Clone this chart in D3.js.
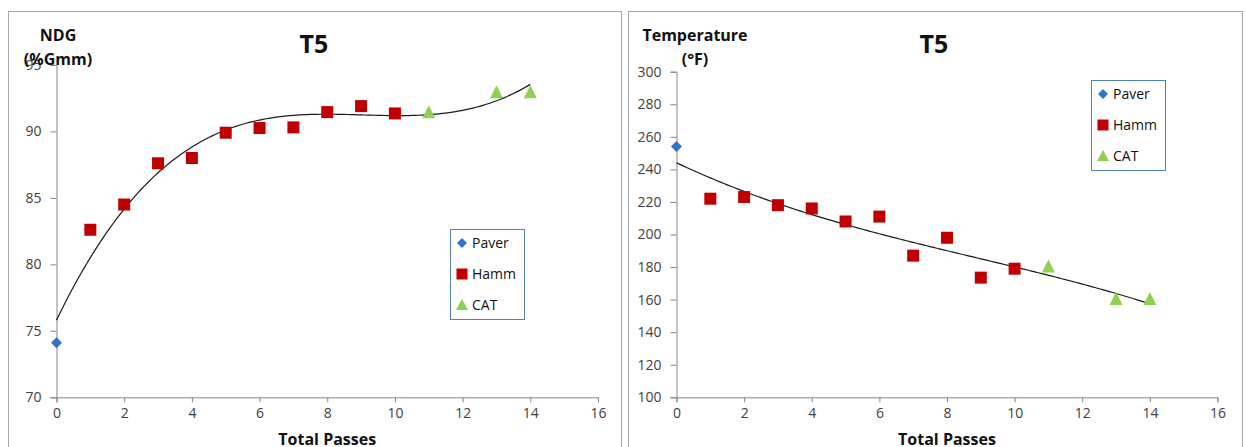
<!DOCTYPE html>
<html>
<head>
<meta charset="utf-8">
<script src="https://cdn.jsdelivr.net/npm/d3@7"></script>
<style>
  html, body { margin: 0; padding: 0; background: #fff; }
  svg { display: block; font-family: "Open Sans", "Noto Sans", sans-serif; }
</style>
</head>
<body>
<svg id="chart" width="1246" height="447"></svg>
<script>
// Passes per roller
const passesPaver = [0];
const passesHamm = [1, 2, 3, 4, 5, 6, 7, 8, 9, 10];
const passesCat = [11, 13, 14];

// Density (NDG, %Gmm)
const ndgPaver = [74.1];
const ndgHamm = [82.6, 84.5, 87.6, 88.0, 89.9, 90.25, 90.3, 91.45, 91.9, 91.35];
const ndgCat = [91.4, 92.9, 92.9];

// Mat temperature (°F)
const tempPaver = [254];
const tempHamm = [222, 223, 218, 216, 208, 211, 187, 198, 173.5, 179];
const tempCat = [180, 160, 160];

const xTicks = [0, 2, 4, 6, 8, 10, 12, 14, 16];
const ndgTicks = [70, 75, 80, 85, 90, 95];
const tempTicks = [100, 120, 140, 160, 180, 200, 220, 240, 260, 280, 300];
const seriesNames = ["Paver", "Hamm", "CAT"];

const colors = { Paver: "#2e75c9", Hamm: "#c00000", CAT: "#8fd14f" };

// Least-squares polynomial fit (normal equations), returns coefficients c0..cn
function polyFit(xs, ys, order) {
  const n = order + 1;
  const A = Array.from({length: n}, () => new Array(n + 1).fill(0));
  for (let i = 0; i < xs.length; i++) {
    for (let r = 0; r < n; r++) {
      for (let c = 0; c < n; c++) A[r][c] += Math.pow(xs[i], r + c);
      A[r][n] += ys[i] * Math.pow(xs[i], r);
    }
  }
  for (let p = 0; p < n; p++) {
    let best = p;
    for (let r = p + 1; r < n; r++) if (Math.abs(A[r][p]) > Math.abs(A[best][p])) best = r;
    [A[p], A[best]] = [A[best], A[p]];
    for (let r = 0; r < n; r++) {
      if (r === p) continue;
      const f = A[r][p] / A[p][p];
      for (let c = p; c <= n; c++) A[r][c] -= f * A[p][c];
    }
  }
  return A.map((row, i) => row[n] / row[i]);
}
const polyEval = (c, x) => c.reduce((s, k, i) => s + k * Math.pow(x, i), 0);

const svg = d3.select("#chart");

function drawPanel(cfg) {
  const g = svg.append("g");

  // panel frame
  g.append("rect")
    .attr("x", cfg.frame[0] + 0.5).attr("y", cfg.frame[1] + 0.5)
    .attr("width", cfg.frame[2]).attr("height", cfg.frame[3])
    .attr("fill", "#fff").attr("stroke", "#a6a6a6").attr("stroke-width", 1);

  const x = d3.scaleLinear().domain([0, 16]).range([cfg.left, cfg.right]);
  const y = d3.scaleLinear().domain(cfg.yDomain).range([cfg.bottom, cfg.top]);

  // axes
  const xAxis = d3.axisBottom(x).tickValues(xTicks).tickSize(5).tickPadding(6).tickFormat(d3.format("d"));
  const yAxis = d3.axisLeft(y).tickValues(cfg.yTicks).tickSize(6).tickPadding(9).tickFormat(d3.format("d"));

  const gx = g.append("g").attr("transform", `translate(0,${cfg.bottom})`).call(xAxis);
  const gy = g.append("g").attr("transform", `translate(${cfg.left},0)`).call(yAxis);
  [gx, gy].forEach(a => {
    a.select(".domain").attr("stroke", "#868686");
    a.selectAll(".tick line").attr("stroke", "#868686");
    a.selectAll(".tick text").attr("fill", "#404040").attr("font-size", 14)
      .attr("font-family", "'Open Sans', sans-serif");
  });
  gx.selectAll(".tick text").attr("dy", "0.71em");

  // trend line through all passes
  const allX = [...passesPaver, ...passesHamm, ...passesCat];
  const allY = [...cfg.paver, ...cfg.hamm, ...cfg.cat];
  const coef = polyFit(allX, allY, cfg.order);
  const xs = d3.range(0, 14.0001, 0.1);
  g.append("path")
    .attr("d", d3.line().x(d => x(d)).y(d => y(polyEval(coef, d)))(xs))
    .attr("fill", "none").attr("stroke", "#1a1a1a").attr("stroke-width", 1.2);

  // points
  const sq = 12, tri = 13, dia = 11;
  g.selectAll(".hamm").data(passesHamm.map((p, i) => [p, cfg.hamm[i]])).join("rect")
    .attr("x", d => x(d[0]) - sq / 2).attr("y", d => y(d[1]) - sq / 2)
    .attr("width", sq).attr("height", sq).attr("fill", colors.Hamm);
  g.selectAll(".cat").data(passesCat.map((p, i) => [p, cfg.cat[i]])).join("path")
    .attr("transform", d => `translate(${x(d[0])},${y(d[1])})`)
    .attr("d", `M0,${-tri / 2 - 1}L${tri / 2},${tri / 2 - 1}L${-tri / 2},${tri / 2 - 1}Z`)
    .attr("fill", colors.CAT);
  g.selectAll(".paver").data(passesPaver.map((p, i) => [p, cfg.paver[i]])).join("path")
    .attr("transform", d => `translate(${x(d[0])},${y(d[1])})`)
    .attr("d", `M0,${-dia / 2}L${dia / 2},0L0,${dia / 2}L${-dia / 2},0Z`)
    .attr("fill", colors.Paver);

  // titles
  g.append("text").attr("x", cfg.titleX).attr("y", 53).attr("text-anchor", "middle")
    .attr("font-size", 25).attr("font-weight", "bold").attr("fill", "#111").text("T5");
  cfg.yTitle.forEach((t, i) => {
    g.append("text").attr("x", cfg.yTitleX).attr("y", 41 + i * 24).attr("text-anchor", "middle")
      .attr("font-size", 16).attr("font-weight", "bold").attr("fill", "#111").text(t);
  });
  g.append("text").attr("x", (cfg.left + cfg.right) / 2).attr("y", 445).attr("text-anchor", "middle")
    .attr("font-size", 16).attr("font-weight", "bold").attr("fill", "#111").text("Total Passes");

  // legend
  const lg = g.append("g").attr("transform", `translate(${cfg.legend[0]},${cfg.legend[1]})`);
  lg.append("rect").attr("x", 0.5).attr("y", 0.5).attr("width", 74).attr("height", 90)
    .attr("fill", "#fff").attr("stroke", "#4f81bd").attr("stroke-width", 1);
  seriesNames.forEach((name, i) => {
    const cy = 14 + i * 31;
    const cx = 12;
    if (name === "Paver") {
      lg.append("path").attr("transform", `translate(${cx},${cy})`)
        .attr("d", "M0,-5L5,0L0,5L-5,0Z").attr("fill", colors.Paver);
    } else if (name === "Hamm") {
      lg.append("rect").attr("x", cx - 5.5).attr("y", cy - 5.5).attr("width", 11).attr("height", 11)
        .attr("fill", colors.Hamm);
    } else {
      lg.append("path").attr("transform", `translate(${cx},${cy})`)
        .attr("d", "M0,-6L6,5L-6,5Z").attr("fill", colors.CAT);
    }
    lg.append("text").attr("x", 22).attr("y", cy + 5).attr("font-size", 14)
      .attr("fill", "#111").text(name);
  });
}

drawPanel({
  frame: [8, 11, 613, 450],
  left: 56.5, right: 598, top: 64.9, bottom: 397.3,
  yDomain: [70, 95], yTicks: ndgTicks,
  paver: ndgPaver, hamm: ndgHamm, cat: ndgCat, order: 3,
  titleX: 314, yTitle: ["NDG", "(%Gmm)"], yTitleX: 58,
  legend: [450, 229]
});

drawPanel({
  frame: [628, 11, 614, 450],
  left: 676.5, right: 1217.5, top: 71.7, bottom: 397.3,
  yDomain: [100, 300], yTicks: tempTicks,
  paver: tempPaver, hamm: tempHamm, cat: tempCat, order: 3,
  titleX: 934, yTitle: ["Temperature", "(°F)"], yTitleX: 695,
  legend: [1091, 80]
});
</script>
</body>
</html>
